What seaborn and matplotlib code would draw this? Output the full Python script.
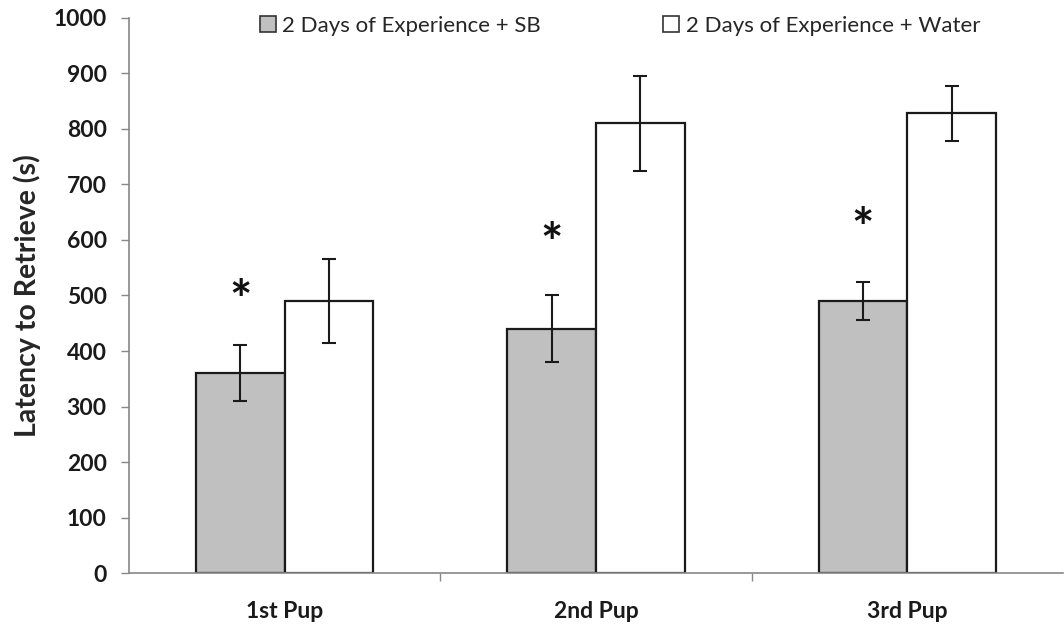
import pandas as pd
import numpy as np
import matplotlib
matplotlib.use("Agg")
import matplotlib.pyplot as plt
import seaborn as sns

# Dados
pups = ['1st Pup', '2nd Pup', '3rd Pup']
grupos = ['2 Days of Experience + SB', '2 Days of Experience + Water']
media_sb = [360, 440, 490]
erro_sb = [50, 60, 35]
media_agua = [490, 810, 828]
erro_agua = [75, 85, 50]
asterisco_y = [514, 615, 642]

df = pd.DataFrame({
    'Pup': pups * 2,
    'Grupo': [grupos[0]] * 3 + [grupos[1]] * 3,
    'Latencia': media_sb + media_agua,
    'Erro': erro_sb + erro_agua,
})

sns.set_style("white")
plt.rcParams['font.family'] = ['Lato', 'DejaVu Sans']

fig = plt.figure(figsize=(10.64, 6.24), dpi=100)
ax = fig.add_axes([0.1212, 0.0817, 0.8778, 0.8895])

sns.barplot(data=df, x='Pup', y='Latencia', hue='Grupo', order=pups, hue_order=grupos,
            palette=['#c0c0c0', '#ffffff'], width=0.57, errorbar=None,
            edgecolor='#1a1a1a', linewidth=1.6, ax=ax)

# Barras de erro a partir das barras desenhadas
for container, g in zip(ax.containers, grupos):
    sub = df[df['Grupo'] == g].set_index('Pup').loc[pups]
    xs = [p.get_x() + p.get_width() / 2 for p in container.patches]
    ax.errorbar(xs, sub['Latencia'], yerr=sub['Erro'], fmt='none', ecolor='#1a1a1a',
                elinewidth=1.5, capsize=5, capthick=1.5, zorder=5)

# Asteriscos sobre as barras SB
for p, yv in zip(ax.containers[0].patches, asterisco_y):
    ax.annotate('*', (p.get_x() + p.get_width() / 2, yv), xytext=(0, -11),
                textcoords='offset points', ha='center', va='center',
                fontsize=38, fontweight='bold', color='#111111')

ax.set_ylim(0, 1000)
ax.set_xlim(-0.5, 2.5)
ax.set_yticks(range(0, 1001, 100))
ax.set_xlabel('')
ax.set_ylabel('Latency to Retrieve (s)', fontsize=20.5, fontweight='bold', labelpad=9)
ax.tick_params(axis='y', labelsize=16.5, length=6, width=1, color='#888888', direction='out', left=True, pad=10)
ax.tick_params(axis='x', labelsize=16.5, length=0, pad=20)
ax.set_xticks([0.5, 1.5], minor=True)
ax.tick_params(axis='x', which='minor', length=6, width=1, color='#888888', direction='out', bottom=True)
for lbl in ax.get_xticklabels() + ax.get_yticklabels():
    lbl.set_fontweight('bold')
    lbl.set_color('#1a1a1a')

for s in ['top', 'right']:
    ax.spines[s].set_visible(False)
for s in ['left', 'bottom']:
    ax.spines[s].set_color('#888888')
    ax.spines[s].set_linewidth(1.2)

leg = ax.legend(loc='upper center', bbox_to_anchor=(0.526, 1.04), ncol=2, frameon=False,
                fontsize=16, handlelength=0.7, handleheight=0.7, handletextpad=0.3,
                columnspacing=5.5)
for h in leg.legend_handles:
    h.set_edgecolor('#333333')
    h.set_linewidth(1.2)

fig.savefig('out.png', dpi=100)
